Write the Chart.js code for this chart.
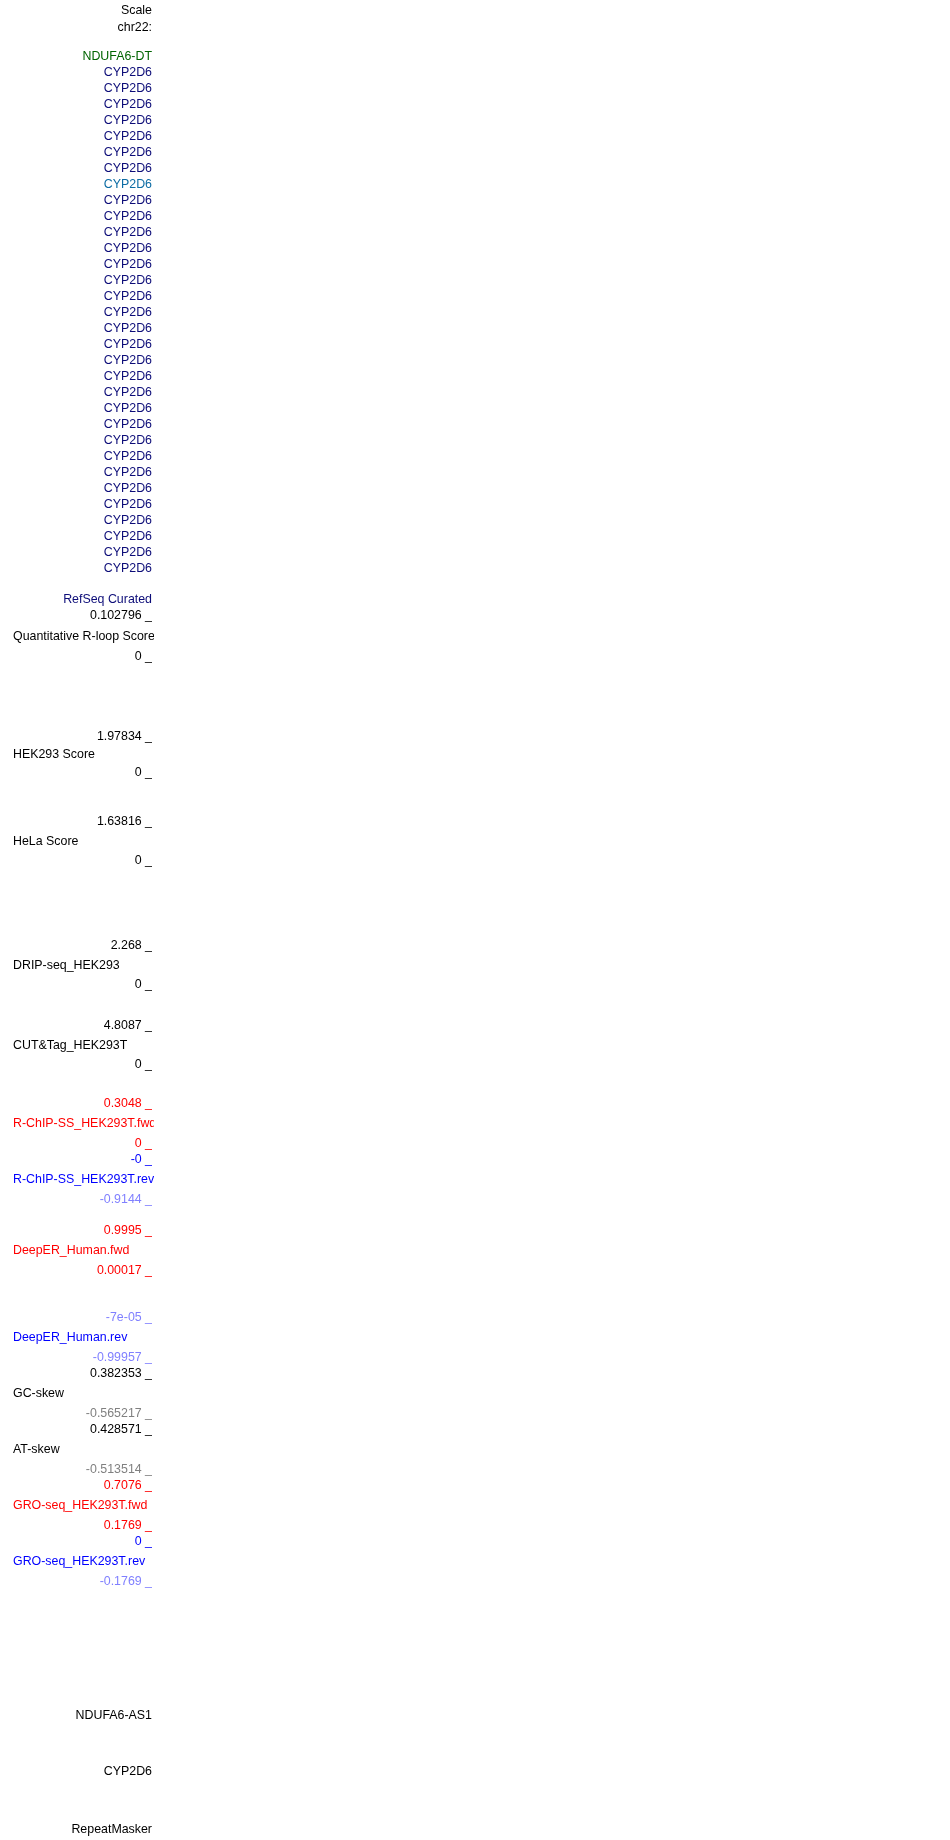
<!DOCTYPE html>
<html>
<head>
<meta charset="utf-8">
<title>chr22 track labels</title>
<script src="https://cdn.jsdelivr.net/npm/chart.js@4.4.1/dist/chart.umd.min.js"></script>
<style>
  html, body { margin: 0; padding: 0; background: #ffffff; }
  #wrap { width: 950px; height: 1840px; position: relative; }
</style>
</head>
<body>
<div id="wrap"><canvas id="trackChart" width="950" height="1840"></canvas></div>
<script>
// labels above the gene rows
const headerLabels = ['Scale', 'chr22:'];

// gene rows of the RefSeq track
const geneLabels = [
    'NDUFA6-DT',
    'CYP2D6', 'CYP2D6', 'CYP2D6', 'CYP2D6', 'CYP2D6', 'CYP2D6', 'CYP2D6', 'CYP2D6',
    'CYP2D6', 'CYP2D6', 'CYP2D6', 'CYP2D6', 'CYP2D6', 'CYP2D6', 'CYP2D6', 'CYP2D6',
    'CYP2D6', 'CYP2D6', 'CYP2D6', 'CYP2D6', 'CYP2D6', 'CYP2D6', 'CYP2D6', 'CYP2D6',
    'CYP2D6', 'CYP2D6', 'CYP2D6', 'CYP2D6', 'CYP2D6', 'CYP2D6', 'CYP2D6', 'CYP2D6',
    'RefSeq Curated'
];
// which gene row is the highlighted one
const geneKinds = [
    'nc',
    'cd', 'cd', 'cd', 'cd', 'cd', 'cd', 'cd', 'hl',
    'cd', 'cd', 'cd', 'cd', 'cd', 'cd', 'cd', 'cd',
    'cd', 'cd', 'cd', 'cd', 'cd', 'cd', 'cd', 'cd',
    'cd', 'cd', 'cd', 'cd', 'cd', 'cd', 'cd', 'cd',
    'cd'
];

// signal tracks: name, upper and lower value of the y range
const trackNames = [
    'Quantitative R-loop Score', 'HEK293 Score', 'HeLa Score', 'DRIP-seq_HEK293',
    'CUT&Tag_HEK293T', 'R-ChIP-SS_HEK293T.fwd', 'R-ChIP-SS_HEK293T.rev',
    'DeepER_Human.fwd', 'DeepER_Human.rev', 'GC-skew', 'AT-skew',
    'GRO-seq_HEK293T.fwd', 'GRO-seq_HEK293T.rev'
];
const trackMax = ['0.102796', '1.97834', '1.63816', '2.268', '4.8087', '0.3048', '-0',
    '0.9995', '-7e-05', '0.382353', '0.428571', '0.7076', '0'];
const trackMin = ['0', '0', '0', '0', '0', '0', '-0.9144',
    '0.00017', '-0.99957', '-0.565217', '-0.513514', '0.1769', '-0.1769'];
const trackStrand = ['none', 'none', 'none', 'none', 'none', 'fwd', 'rev',
    'fwd', 'rev', 'skew', 'skew', 'fwd', 'rev'];
// upper value below zero is written in the pale colour
const trackMaxNegative = [false, false, false, false, false, false, false,
    false, true, false, false, false, false];

// collapsed tracks at the bottom
const footerLabels = ['NDUFA6-AS1', 'CYP2D6', 'RepeatMasker'];

// ---- layout (pixels) ----
const LABEL_RIGHT = 152;
const LABEL_LEFT = 13;
const CLIP_RIGHT = 154;
const headerY = [11, 28];
const geneTop = 57;
const geneRowH = 16;
const refseqY = 600;
const trackTopY = [616, 737, 822, 946, 1026, 1104, 1160, 1231, 1318, 1374, 1430, 1486, 1542];
const trackSpan = [41, 36, 39, 39, 39, 40, 40, 40, 40, 40, 40, 40, 40];
const footerY = [1716, 1772, 1830];

const COLORS = {
    black: '#000000',
    nc: '#006400',
    cd: '#0c0c78',
    hl: '#0c6ca4',
    red: '#ff0000',
    blue: '#0000ff',
    lightBlue: '#8080ff',
    gray: '#808080'
};

function strandColors(strand) {
    if (strand === 'fwd') return { max: COLORS.red, name: COLORS.red, min: COLORS.red };
    if (strand === 'rev') return { max: COLORS.blue, name: COLORS.blue, min: COLORS.lightBlue };
    if (strand === 'skew') return { max: COLORS.black, name: COLORS.black, min: COLORS.gray };
    return { max: COLORS.black, name: COLORS.black, min: COLORS.black };
}

// build the label datasets
const rightPts = [], rightText = [], rightColor = [];
const leftPts = [], leftText = [], leftColor = [];

headerLabels.forEach((t, i) => {
    rightPts.push({ x: LABEL_RIGHT, y: headerY[i] });
    rightText.push(t);
    rightColor.push(COLORS.black);
});

geneLabels.forEach((t, i) => {
    const y = (i === geneLabels.length - 1) ? refseqY : geneTop + i * geneRowH;
    rightPts.push({ x: LABEL_RIGHT, y: y });
    rightText.push(t);
    rightColor.push(COLORS[geneKinds[i]]);
});

trackNames.forEach((name, i) => {
    const c = strandColors(trackStrand[i]);
    const top = trackTopY[i];
    const span = trackSpan[i];
    rightPts.push({ x: LABEL_RIGHT, y: top });
    rightText.push(trackMax[i] + ' _');
    rightColor.push(trackMaxNegative[i] ? c.min : c.max);
    rightPts.push({ x: LABEL_RIGHT, y: top + span });
    rightText.push(trackMin[i] + ' _');
    rightColor.push(c.min);
    leftPts.push({ x: LABEL_LEFT, y: top + Math.round(span / 2) });
    leftText.push(name);
    leftColor.push(c.name);
});

footerLabels.forEach((t, i) => {
    rightPts.push({ x: LABEL_RIGHT, y: footerY[i] });
    rightText.push(t);
    rightColor.push(COLORS.black);
});

// draws the text of each point where the scales place it
const textLabels = {
    id: 'textLabels',
    afterDatasetsDraw(chart) {
        const ctx = chart.ctx;
        ctx.save();
        ctx.beginPath();
        ctx.rect(0, 0, CLIP_RIGHT, chart.height);
        ctx.clip();
        ctx.font = '12.4px "Liberation Sans", Arial, sans-serif';
        ctx.textBaseline = 'middle';
        chart.data.datasets.forEach((ds, di) => {
            const meta = chart.getDatasetMeta(di);
            ctx.textAlign = ds.textAlign;
            meta.data.forEach((el, i) => {
                ctx.fillStyle = ds.textColors[i];
                ctx.fillText(ds.texts[i], el.x, el.y);
            });
        });
        ctx.restore();
    }
};

new Chart(document.getElementById('trackChart'), {
    type: 'scatter',
    data: {
        datasets: [
            { data: rightPts, texts: rightText, textColors: rightColor, textAlign: 'right', pointRadius: 0 },
            { data: leftPts, texts: leftText, textColors: leftColor, textAlign: 'left', pointRadius: 0 }
        ]
    },
    options: {
        responsive: false,
        animation: false,
        devicePixelRatio: 1,
        layout: { padding: 0 },
        events: [],
        scales: {
            x: { type: 'linear', min: 0, max: 950, display: false },
            y: { type: 'linear', min: 0, max: 1840, reverse: true, display: false }
        },
        plugins: {
            legend: { display: false },
            tooltip: { enabled: false }
        }
    },
    plugins: [textLabels]
});
</script>
</body>
</html>
